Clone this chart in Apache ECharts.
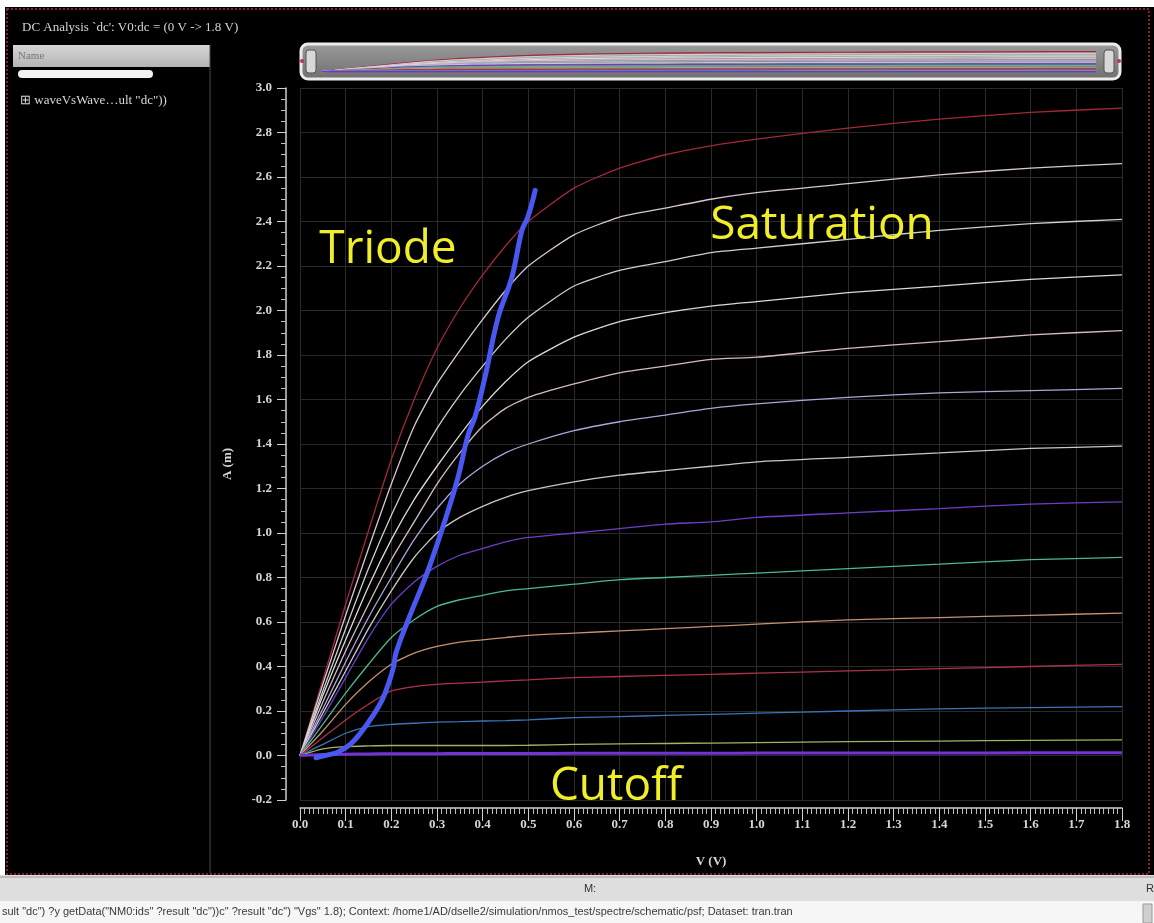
<!DOCTYPE html>
<html>
<head>
<meta charset="utf-8">
<script src="https://cdn.jsdelivr.net/npm/echarts@6/dist/echarts.min.js"></script>
<style>
  html, body { margin: 0; padding: 0; background: #fff; }
  #chart { width: 1154px; height: 923px; }
</style>
</head>
<body>
<div id="chart"></div>
<script>
// drain voltage sweep (V)
var vds = [0, 0.05, 0.1, 0.15, 0.2, 0.25, 0.3, 0.35, 0.4, 0.45, 0.5, 0.6, 0.7, 0.8, 0.9, 1.0, 1.2, 1.4, 1.6, 1.8];

// drain current (mA), one array per gate voltage, top curve first
var id1 = [0, 0.34, 0.68, 1.01, 1.33, 1.60, 1.83, 2.01, 2.16, 2.29, 2.40, 2.55, 2.64, 2.70, 2.74, 2.77, 2.82, 2.86, 2.89, 2.91];
var id2 = [0, 0.32, 0.63, 0.93, 1.22, 1.48, 1.67, 1.82, 1.96, 2.09, 2.20, 2.34, 2.42, 2.46, 2.50, 2.53, 2.57, 2.61, 2.64, 2.66];
var id3 = [0, 0.29, 0.57, 0.84, 1.08, 1.29, 1.47, 1.62, 1.75, 1.87, 1.97, 2.11, 2.18, 2.22, 2.26, 2.28, 2.32, 2.36, 2.39, 2.41];
var id4 = [0, 0.27, 0.52, 0.76, 0.97, 1.15, 1.30, 1.44, 1.57, 1.68, 1.77, 1.88, 1.95, 1.99, 2.02, 2.04, 2.08, 2.11, 2.14, 2.16];
var id5 = [0, 0.24, 0.47, 0.68, 0.88, 1.05, 1.22, 1.36, 1.48, 1.56, 1.61, 1.67, 1.72, 1.75, 1.78, 1.79, 1.83, 1.86, 1.89, 1.91];
var id6 = [0, 0.21, 0.42, 0.62, 0.80, 0.97, 1.11, 1.22, 1.30, 1.36, 1.40, 1.46, 1.50, 1.53, 1.56, 1.58, 1.61, 1.63, 1.64, 1.65];
var id7 = [0, 0.19, 0.38, 0.57, 0.74, 0.89, 1.00, 1.07, 1.12, 1.16, 1.19, 1.23, 1.26, 1.28, 1.30, 1.32, 1.34, 1.36, 1.38, 1.39];
var id8 = [0, 0.17, 0.35, 0.53, 0.68, 0.78, 0.85, 0.90, 0.93, 0.96, 0.98, 1.00, 1.02, 1.04, 1.05, 1.07, 1.09, 1.11, 1.13, 1.14];
var id9 = [0, 0.14, 0.28, 0.41, 0.53, 0.61, 0.67, 0.70, 0.72, 0.74, 0.75, 0.77, 0.79, 0.80, 0.81, 0.82, 0.84, 0.86, 0.88, 0.89];
var id10 = [0, 0.11, 0.23, 0.33, 0.41, 0.46, 0.49, 0.51, 0.52, 0.53, 0.54, 0.55, 0.56, 0.57, 0.58, 0.59, 0.61, 0.62, 0.63, 0.64];
var id11 = [0, 0.08, 0.16, 0.23, 0.29, 0.31, 0.32, 0.325, 0.33, 0.335, 0.34, 0.35, 0.355, 0.36, 0.365, 0.37, 0.38, 0.39, 0.40, 0.41];
var id12 = [0, 0.05, 0.10, 0.13, 0.14, 0.145, 0.15, 0.152, 0.155, 0.157, 0.16, 0.17, 0.175, 0.18, 0.185, 0.19, 0.20, 0.21, 0.215, 0.22];
var id13 = [0, 0.03, 0.04, 0.043, 0.045, 0.045, 0.045, 0.045, 0.045, 0.045, 0.046, 0.05, 0.052, 0.054, 0.056, 0.058, 0.062, 0.065, 0.068, 0.07];
var id14 = [0, 0.004, 0.006, 0.007, 0.008, 0.008, 0.008, 0.009, 0.009, 0.009, 0.009, 0.01, 0.01, 0.01, 0.01, 0.011, 0.011, 0.011, 0.012, 0.012];

var curves = [id1, id2, id3, id4, id5, id6, id7, id8, id9, id10, id11, id12, id13, id14];
var colors = ["#a3283a", "#d9c6d6", "#c9d3c9", "#dadada", "#d4bcc6", "#aca6d8", "#c8c8c8",
              "#6a3fc8", "#4fb88e", "#c4926e", "#ad3249", "#3b74b8", "#a4b45e", "#7433d6"];

// hand drawn triode / saturation boundary (V, mA)
var edgeV = [0.035, 0.066, 0.083, 0.11, 0.136, 0.16, 0.18, 0.195, 0.205, 0.21, 0.237, 0.28, 0.318, 0.346, 0.368, 0.383, 0.405, 0.434, 0.464, 0.486, 0.499, 0.515];
var edgeI = [-0.01, 0.005, 0.015, 0.05, 0.11, 0.18, 0.25, 0.33, 0.40, 0.46, 0.61, 0.83, 1.06, 1.25, 1.44, 1.52, 1.70, 1.97, 2.15, 2.36, 2.42, 2.54];

var chart = echarts.init(document.getElementById("chart"));

function pairs(xs, ys) {
  return xs.map(function (x, i) { return [x, ys[i]]; });
}

var series = [];
curves.forEach(function (c, k) {
  series.push({
    type: "line",
    data: pairs(vds, c),
    smooth: 0.2,
    showSymbol: false,
    silent: true,
    lineStyle: { color: colors[k], width: k === 13 ? 3 : 1.3 }
  });
});
series.push({
  type: "line",
  data: pairs(edgeV, edgeI),
  smooth: 0.4,
  showSymbol: false,
  silent: true,
  z: 5,
  lineStyle: { color: "#4a58f2", width: 5, cap: "round", join: "round" }
});
// overview strip copies
curves.forEach(function (c, k) {
  series.push({
    type: "line",
    xAxisIndex: 1,
    yAxisIndex: 1,
    data: pairs(vds, c),
    smooth: 0.2,
    showSymbol: false,
    silent: true,
    lineStyle: { color: colors[k], width: 1.2 }
  });
});

var labelFont = { color: "#d6d6d6", fontFamily: "Liberation Serif", fontSize: 13, fontWeight: "bold" };
var ruler = { show: true, onZero: false, lineStyle: { color: "#cfcfcf", width: 1.5 } };
var regionFont = "46px 'Open Sans'";

var option = {
  backgroundColor: "#000",
  animation: false,
  grid: [
    { left: 300, right: 32, top: 88, bottom: 123 },
    { left: 322, right: 58, top: 51, height: 22 }
  ],
  xAxis: [
    {
      type: "value", min: 0, max: 1.8, interval: 0.1, offset: 8,
      name: "V (V)", nameLocation: "middle", nameGap: 47,
      nameTextStyle: labelFont,
      axisLine: ruler,
      axisTick: { show: true, length: 13, lineStyle: { color: "#cfcfcf" } },
      minorTick: { show: true, splitNumber: 10, length: 6, lineStyle: { color: "#bdbdbd" } },
      axisLabel: Object.assign({ margin: 10, formatter: function (v) { return v.toFixed(1); } }, labelFont),
      splitLine: { show: true, lineStyle: { color: "#2a2a2a", width: 1 } }
    },
    { type: "value", gridIndex: 1, min: 0, max: 1.8, show: false }
  ],
  yAxis: [
    {
      type: "value", min: -0.2, max: 3.0, interval: 0.2, offset: 14,
      name: "A (m)", nameLocation: "middle", nameGap: 52, nameRotate: 90,
      nameTextStyle: Object.assign({ padding: [0, 0, 0, -40] }, labelFont),
      axisLine: ruler,
      axisTick: { show: true, length: 9, lineStyle: { color: "#cfcfcf" } },
      minorTick: { show: true, splitNumber: 4, length: 5, lineStyle: { color: "#bdbdbd" } },
      axisLabel: Object.assign({ margin: 14, formatter: function (v) { return v.toFixed(1); } }, labelFont),
      splitLine: { show: true, lineStyle: { color: "#2a2a2a", width: 1 } }
    },
    { type: "value", gridIndex: 1, min: -0.2, max: 3.0, show: false }
  ],
  graphic: [
    // window frame
    { type: "rect", z: -10, shape: { x: 0, y: 0, width: 1154, height: 7 }, style: { fill: "#fff" } },
    { type: "rect", z: -10, shape: { x: 0, y: 0, width: 5, height: 880 }, style: { fill: "#fff" } },
    { type: "rect", z: -9, shape: { x: 7, y: 9, width: 1142, height: 865 },
      style: { fill: null, stroke: "#8c1c2e", lineWidth: 2, lineDash: [2, 2] } },
    { type: "text", style: { x: 22, y: 28, text: "DC Analysis `dc': V0:dc = (0 V -> 1.8 V)", fill: "#d4d4d4",
      font: "13px 'Liberation Serif'", verticalAlign: "middle" } },
    // left panel
    { type: "rect", shape: { x: 13, y: 45, width: 197, height: 22 },
      style: { fill: new echarts.graphic.LinearGradient(0, 0, 0, 1, [{ offset: 0, color: "#d6d6d6" }, { offset: 1, color: "#b4b4b4" }]) } },
    { type: "text", style: { x: 18, y: 56, text: "Name", fill: "#777", font: "11px 'Liberation Serif'", verticalAlign: "middle" } },
    { type: "rect", shape: { x: 18, y: 70, width: 135, height: 8, r: 4 }, style: { fill: "#f2f2f2" } },
    { type: "text", style: { x: 20, y: 101, text: "\u229e waveVsWave\u2026ult \"dc\"))", fill: "#d8d8d8",
      font: "13px 'Liberation Serif'", verticalAlign: "middle" } },
    { type: "line", shape: { x1: 210, y1: 45, x2: 210, y2: 873 }, style: { stroke: "#4a4a4a", lineWidth: 1 } },
    // overview strip
    { type: "rect", z: -5, shape: { x: 301, y: 44, width: 819, height: 35, r: 7 },
      style: { fill: new echarts.graphic.LinearGradient(0, 0, 0, 1, [{ offset: 0, color: "#9c9c9c" }, { offset: 1, color: "#6e6e6e" }]),
               stroke: "#ececec", lineWidth: 3 } },
    { type: "rect", shape: { x: 306, y: 50, width: 10, height: 23, r: 3 }, style: { fill: "#d8d8d8", stroke: "#555", lineWidth: 1 } },
    { type: "rect", shape: { x: 1104, y: 50, width: 10, height: 23, r: 3 }, style: { fill: "#d8d8d8", stroke: "#555", lineWidth: 1 } },
    { type: "circle", shape: { cx: 302, cy: 61, r: 2 }, style: { fill: "#c03050" } },
    { type: "circle", shape: { cx: 1119, cy: 61, r: 2 }, style: { fill: "#c03050" } },
    // region labels
    { type: "text", z: 100, style: { x: 388, y: 250, text: "Triode", fill: "#f0ee28", font: regionFont,
      align: "center", verticalAlign: "middle" } },
    { type: "text", z: 100, style: { x: 822, y: 226, text: "Saturation", fill: "#f0ee28", font: regionFont,
      align: "center", verticalAlign: "middle" } },
    { type: "text", z: 100, style: { x: 616, y: 787, text: "Cutoff", fill: "#f0ee28", font: regionFont,
      align: "center", verticalAlign: "middle" } },
    // status bars
    { type: "rect", shape: { x: 0, y: 875, width: 1154, height: 26 }, style: { fill: "#dedede" } },
    { type: "line", shape: { x1: 0, y1: 877, x2: 1154, y2: 877 }, style: { stroke: "#9a9a9a", lineWidth: 1 } },
    { type: "text", style: { x: 590, y: 889, text: "M:", fill: "#333", font: "11px 'Liberation Sans'", align: "center", verticalAlign: "middle" } },
    { type: "text", style: { x: 1146, y: 889, text: "R", fill: "#333", font: "11px 'Liberation Sans'", verticalAlign: "middle" } },
    { type: "rect", shape: { x: 0, y: 901, width: 1154, height: 22 }, style: { fill: "#f6f6f6" } },
    { type: "text", style: { x: 2, y: 912, text: "sult \"dc\") ?y getData(\"NM0:ids\" ?result \"dc\"))c\" ?result \"dc\") \"Vgs\" 1.8); Context: /home1/AD/dselle2/simulation/nmos_test/spectre/schematic/psf; Dataset: tran.tran",
      fill: "#3a3a3a", font: "11px 'Liberation Sans'", verticalAlign: "middle" } },
    { type: "rect", shape: { x: 1143, y: 904, width: 9, height: 19 }, style: { fill: "#cfcfcf", stroke: "#999" } }
  ],
  series: series
};

chart.setOption(option);
</script>
</body>
</html>
